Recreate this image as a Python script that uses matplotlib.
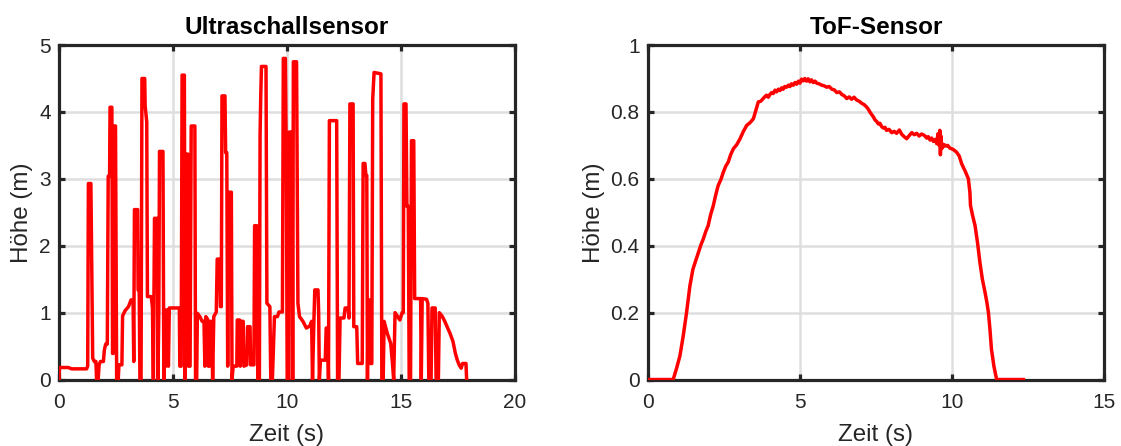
import matplotlib
matplotlib.use("Agg")
import matplotlib.pyplot as plt
import numpy as np

# Ultraschallsensor: Zeit (s) / Höhe (m)
t_us = [0.00, 0.02, 0.41, 0.55, 1.21, 1.26, 1.29, 1.40, 1.44, 1.48, 1.55, 1.62, 1.65, 1.72,
        1.76, 1.82, 1.95, 1.99, 2.05, 2.12, 2.16, 2.22, 2.24, 2.32, 2.35, 2.38, 2.40, 2.48,
        2.53, 2.60, 2.63, 2.76, 2.79, 2.90, 3.05, 3.16, 3.25, 3.28, 3.31, 3.45, 3.47, 3.52,
        3.55, 3.60, 3.64, 3.76, 3.78, 3.85, 3.88, 4.05, 4.10, 4.14, 4.19, 4.31, 4.34, 4.38,
        4.41, 4.56, 4.60, 4.64, 4.69, 4.74, 4.80, 4.84, 5.28, 5.30, 5.36, 5.40, 5.50, 5.53,
        5.56, 5.65, 5.68, 5.75, 5.80, 5.96, 5.99, 6.04, 6.07, 6.18, 6.28, 6.36, 6.40, 6.44,
        6.52, 6.55, 6.60, 6.63, 6.70, 6.74, 6.79, 6.90, 6.94, 7.05, 7.08, 7.12, 7.15, 7.28,
        7.31, 7.36, 7.40, 7.44, 7.56, 7.59, 7.64, 7.80, 7.82, 7.92, 7.95, 7.99, 8.08, 8.11,
        8.24, 8.27, 8.38, 8.41, 8.55, 8.58, 8.67, 8.72, 8.79, 8.82, 8.85, 8.88, 9.08, 9.12,
        9.25, 9.29, 9.36, 9.45, 9.58, 9.65, 9.80, 9.84, 9.93, 9.95, 9.97, 10.01, 10.08, 10.10,
        10.22, 10.25, 10.28, 10.42, 10.48, 10.55, 10.70, 10.85, 11.00, 11.08, 11.12, 11.18,
        11.22, 11.36, 11.39, 11.42, 11.47, 11.68, 11.72, 11.78, 11.82, 11.86, 12.18, 12.22,
        12.28, 12.33, 12.50, 12.55, 12.68, 12.72, 12.76, 12.90, 12.93, 13.06, 13.10, 13.30,
        13.34, 13.42, 13.46, 13.50, 13.53, 13.56, 13.62, 13.66, 13.72, 13.76, 13.82, 14.12,
        14.16, 14.22, 14.26, 14.40, 14.55, 14.62, 14.68, 14.74, 14.95, 15.05, 15.10, 15.13,
        15.22, 15.26, 15.32, 15.36, 15.42, 15.46, 15.56, 15.60, 15.86, 15.89, 15.93, 16.12,
        16.18, 16.22, 16.32, 16.36, 16.50, 16.54, 16.64, 16.68, 16.80, 16.92, 17.02, 17.15,
        17.28, 17.38, 17.46, 17.55, 17.64, 17.70, 17.85, 17.88]
h_us = [0.00, 0.18, 0.18, 0.16, 0.16, 0.20, 2.93, 2.93, 1.58, 0.32, 0.27, 0.27, 0.00, 0.00,
        0.22, 0.27, 0.27, 0.44, 0.53, 0.53, 3.04, 3.04, 4.07, 4.07, 0.39, 0.39, 3.79, 3.79,
        0.00, 0.00, 0.22, 0.22, 0.95, 1.03, 1.09, 1.19, 1.19, 0.27, 2.54, 2.54, 1.34, 1.34,
        0.00, 0.00, 4.50, 4.50, 4.09, 3.85, 1.24, 1.24, 1.07, 0.00, 2.41, 2.41, 0.00, 1.04,
        3.41, 3.41, 0.00, 1.04, 0.20, 1.04, 0.20, 1.07, 1.07, 0.20, 0.20, 4.55, 4.55, 0.00,
        3.37, 3.37, 0.20, 0.20, 3.79, 3.79, 0.00, 0.00, 0.99, 0.94, 0.87, 0.87, 0.20, 0.94,
        0.90, 0.20, 0.20, 0.87, 0.87, 0.00, 0.94, 1.01, 1.80, 1.80, 1.09, 1.09, 4.24, 4.24,
        3.39, 3.39, 0.20, 2.80, 2.80, 0.00, 0.20, 0.20, 0.89, 0.89, 0.20, 0.87, 0.87, 0.20,
        0.22, 0.79, 0.79, 0.22, 0.22, 2.30, 2.30, 0.00, 0.00, 3.66, 4.24, 4.68, 4.68, 1.14,
        1.09, 0.00, 0.00, 0.94, 0.94, 1.01, 1.01, 4.80, 4.80, 4.02, 3.29, 0.00, 0.00, 3.70,
        3.70, 0.00, 4.75, 4.75, 1.14, 0.94, 0.87, 0.77, 0.80, 0.87, 0.00, 0.87,
        1.34, 1.34, 1.00, 0.00, 0.29, 0.29, 0.77, 0.77, 0.00, 3.87, 3.87, 0.00,
        0.00, 0.92, 0.92, 1.07, 1.07, 0.92, 4.12, 4.12, 0.79, 0.79, 0.24, 0.24,
        3.23, 3.23, 3.05, 3.05, 0.00, 1.19, 1.19, 0.24, 0.24, 4.19, 4.59, 4.57,
        0.00, 0.00, 0.87, 0.69, 0.54, 0.27, 0.00, 1.00, 0.89, 1.00, 1.00, 4.12,
        4.12, 2.59, 2.59, 0.00, 0.00, 3.57, 3.57, 1.21, 1.21, 0.00, 1.21, 1.20,
        1.14, 0.00, 0.00, 1.07, 1.07, 0.00, 0.00, 1.00, 0.95, 0.87, 0.79, 0.69,
        0.57, 0.40, 0.30, 0.22, 0.17, 0.24, 0.24, 0.00]

# ToF-Sensor
t_tof = [0.00, 0.83, 0.94, 1.05, 1.16, 1.27, 1.38, 1.48, 1.57, 1.66, 1.74, 1.82, 1.90, 1.98,
         2.06, 2.15, 2.23, 2.31, 2.40, 2.48, 2.56, 2.64, 2.72, 2.81, 2.92, 3.03, 3.14, 3.25,
         3.36, 3.47, 3.55, 3.63, 3.71, 3.79, 3.85, 3.90, 3.96, 4.01, 4.07, 4.12, 4.18, 4.23,
         4.29, 4.34, 4.40, 4.45, 4.50, 4.56, 4.62, 4.67, 4.72, 4.78, 4.84, 4.89, 4.95, 5.00,
         5.05, 5.11, 5.16, 5.22, 5.27, 5.33, 5.38, 5.44, 5.50, 5.55, 5.63, 5.72, 5.80, 5.88,
         5.96, 6.05, 6.13, 6.21, 6.30, 6.38, 6.46, 6.54, 6.62, 6.70, 6.78, 6.86, 6.95, 7.03,
         7.11, 7.19, 7.25, 7.30, 7.36, 7.41, 7.47, 7.52, 7.58, 7.63, 7.69, 7.74, 7.80, 7.85,
         7.93, 8.02, 8.10, 8.18, 8.27, 8.35, 8.43, 8.51, 8.60, 8.68, 8.76, 8.84, 8.92, 9.00,
         9.09, 9.17, 9.22, 9.28, 9.33, 9.39, 9.45, 9.50, 9.54, 9.58, 9.60, 9.62, 9.64, 9.66,
         9.68, 9.70, 9.75, 9.80, 9.86, 9.93, 10.04, 10.15, 10.24, 10.32, 10.45, 10.54, 10.59,
         10.61, 10.68, 10.76, 10.84, 10.92, 11.00, 11.09, 11.15, 11.20, 11.25, 11.30, 11.38,
         11.47, 12.35]
h_tof = [0.000, 0.000, 0.033, 0.070, 0.130, 0.200, 0.280, 0.330, 0.355, 0.380, 0.402, 0.420,
         0.442, 0.460, 0.492, 0.520, 0.552, 0.580, 0.598, 0.620, 0.638, 0.650, 0.672, 0.690,
         0.702, 0.720, 0.742, 0.760, 0.768, 0.780, 0.805, 0.830, 0.832, 0.840, 0.846, 0.850,
         0.844, 0.852, 0.858, 0.855, 0.865, 0.860, 0.868, 0.864, 0.872, 0.868, 0.876, 0.874,
         0.880, 0.876, 0.884, 0.880, 0.888, 0.883, 0.892, 0.886, 0.898, 0.893, 0.900, 0.892,
         0.899, 0.890, 0.896, 0.888, 0.892, 0.886, 0.884, 0.880, 0.878, 0.874, 0.876, 0.868,
         0.866, 0.858, 0.860, 0.852, 0.848, 0.840, 0.845, 0.838, 0.844, 0.836, 0.832, 0.826,
         0.822, 0.815, 0.808, 0.800, 0.792, 0.786, 0.776, 0.772, 0.764, 0.766, 0.756, 0.752,
         0.754, 0.745, 0.748, 0.738, 0.742, 0.736, 0.746, 0.733, 0.726, 0.720, 0.730, 0.738,
         0.732, 0.736, 0.728, 0.734, 0.730, 0.722, 0.726, 0.716, 0.722, 0.712, 0.718, 0.705,
         0.735, 0.700, 0.745, 0.672, 0.728, 0.690, 0.705, 0.695, 0.702, 0.698, 0.700, 0.692,
         0.688, 0.680, 0.668, 0.645, 0.620, 0.600, 0.560, 0.520, 0.490, 0.460, 0.410, 0.350,
         0.300, 0.260, 0.230, 0.200, 0.150, 0.090, 0.040, 0.000, 0.000]

plt.rcParams['font.family'] = ['Liberation Sans', 'DejaVu Sans']
dark = '#262626'

fig = plt.figure(figsize=(11.21, 4.46), dpi=100)
ax1 = fig.add_axes([0.0526, 0.149, 0.4068, 0.750])
ax2 = fig.add_axes([0.5780, 0.149, 0.4068, 0.750])

panels = [
    (ax1, t_us, h_us, 'Ultraschallsensor', [0, 20], [0, 5], [0, 5, 10, 15, 20],
     [0, 1, 2, 3, 4, 5], ['0', '1', '2', '3', '4', '5']),
    (ax2, t_tof, h_tof, 'ToF-Sensor', [0, 15], [0, 1], [0, 5, 10, 15],
     [0, 0.2, 0.4, 0.6, 0.8, 1], ['0', '0.2', '0.4', '0.6', '0.8', '1']),
]

for ax, t, h, title, xl, yl, xt, yt, ytl in panels:
    ax.plot(t, h, color='#ff0000', lw=2.5, solid_joinstyle='round', zorder=3)
    ax.set_xlim(xl)
    ax.set_ylim(yl)
    ax.set_xticks(xt)
    ax.set_yticks(yt)
    ax.set_yticklabels(ytl)
    ax.grid(True, color='#dedede', lw=1.8)
    ax.set_axisbelow(True)
    for s in ax.spines.values():
        s.set_linewidth(2.3)
        s.set_color(dark)
    ax.tick_params(direction='in', length=4, width=2.3, color=dark, labelcolor=dark,
                   labelsize=15, top=True, right=True)
    ax.tick_params(axis='x', pad=10)
    ax.tick_params(axis='y', pad=6)
    ax.set_title(title, fontsize=17.5, fontweight='bold', pad=8)
    ax.set_xlabel('Zeit (s)', fontsize=17.4, color=dark, labelpad=8)
    ax.set_ylabel('Höhe (m)', fontsize=17.4, color=dark, labelpad=4)

fig.savefig('out.png', dpi=100)
